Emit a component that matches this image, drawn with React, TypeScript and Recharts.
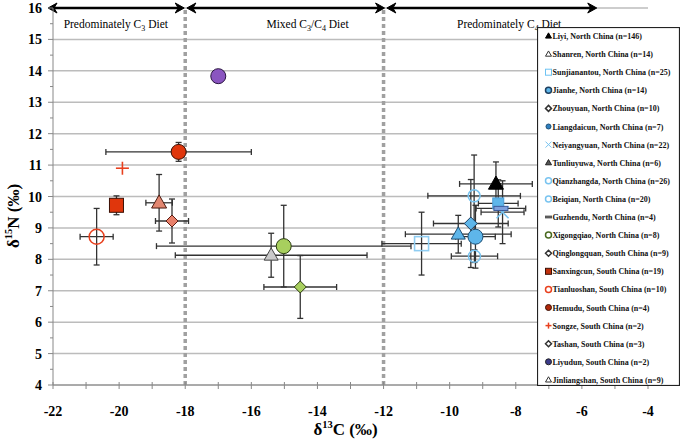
import React from "react";
import {
  ScatterChart,
  Scatter,
  XAxis,
  YAxis,
  CartesianGrid,
  ErrorBar,
  ReferenceLine,
  ReferenceDot,
} from "recharts";

// ---------- data ----------
const sites = [
  "Liyi, North China (n=146)",
  "Shanren, North China (n=14)",
  "Sunjianantou, North China (n=25)",
  "Jianhe, North China (n=14)",
  "Zhouyuan, North China (n=10)",
  "Liangdaicun, North China (n=7)",
  "Neiyangyuan, North China (n=22)",
  "Tunliuyuwa, North China (n=6)",
  "Qianzhangda, North China (n=26)",
  "Beiqian, North China (n=20)",
  "Guzhendu, North China (n=4)",
  "Xigongqiao, North China (n=8)",
  "Qinglongquan, South China (n=9)",
  "Sanxingcun, South China (n=19)",
  "Tianluoshan, South China (n=10)",
  "Hemudu, South China (n=4)",
  "Songze, South China (n=2)",
  "Tashan, South China (n=3)",
  "Liyudun, South China (n=2)",
  "Jinliangshan, South China (n=9)",
];
const d13C = [-8.6, -15.4, -10.85, -9.22, -9.36, -8.53, -8.4, -9.74, -9.26, -9.25, -8.45, -15.02, -14.52, -20.08, -20.68, -18.2, -19.9, -18.4, -17.0, -18.79];
const d15N = [10.4, 8.13, 8.5, 8.72, 9.14, 9.78, 9.5, 8.8, 10.02, 8.1, 9.62, 8.42, 7.12, 9.72, 8.72, 11.42, 10.9, 9.22, 13.83, 9.8];
const sdC = [1.1, 2.9, 1.2, 0.6, 1.13, 0.6, 0.65, 1.6, 1.4, 0.7, 0.75, 3.85, 1.1, 0.18, 0.5, 2.2, 0, 0.5, 0, 0.4];
const sdN = [0.7, 0.7, 1.0, 1.0, 1.4, 0.75, 1.0, 0.6, 1.3, 0.2, 0, 1.3, 1.0, 0.3, 0.9, 0.3, 0, 0.7, 0, 0.9];

const xTicks = [-22, -21, -20, -19, -18, -17, -16, -15, -14, -13, -12, -11, -10, -9, -8, -7, -6, -5, -4];
const yTicks = [4, 4.5, 5, 5.5, 6, 6.5, 7, 7.5, 8, 8.5, 9, 9.5, 10, 10.5, 11, 11.5, 12, 12.5, 13, 13.5, 14, 14.5, 15, 15.5, 16];
const gridY = [4, 5, 6, 7, 8, 9, 10, 11, 12, 13, 14, 15, 16];
const dietBounds = [-18, -12];
const arrowSegments = [
  [-22.15, -18.03],
  [-17.95, -11.97],
  [-11.9, -5.55],
];
const dietLabels = ["Predominately C|3| Diet", "Mixed C|3|/C|4| Diet", "Predominately C|4| Diet"];
const dietLabelX = [-20.1, -14.3, -8.2];

// ---------- styles ----------
type MS = { kind: string; fill: string; stroke: string; size: number; sw?: number };
const BLUE = "#5eb6ea";
const LBLUE = "#79c4f0";
const markerStyles: MS[] = [
  { kind: "tri", fill: "#000", stroke: "#000", size: 15 },
  { kind: "tri", fill: "#cacaca", stroke: "#444", size: 14 },
  { kind: "square", fill: "none", stroke: "#8fcdf2", size: 14, sw: 1.6 },
  { kind: "circle", fill: BLUE, stroke: "#1d4f75", size: 15 },
  { kind: "diamond", fill: BLUE, stroke: "#1d3f60", size: 13 },
  { kind: "square", fill: BLUE, stroke: "#4f9fd8", size: 11 },
  { kind: "x", fill: "none", stroke: LBLUE, size: 12, sw: 1.6 },
  { kind: "tri", fill: BLUE, stroke: "#1d4f75", size: 14 },
  { kind: "circle", fill: "none", stroke: LBLUE, size: 12, sw: 1.5 },
  { kind: "circle", fill: "none", stroke: LBLUE, size: 12, sw: 1.5 },
  { kind: "dash", fill: "#7d9fdc", stroke: "#3a5a9a", size: 14 },
  { kind: "circle", fill: "#a8cf5e", stroke: "#2a3a10", size: 15 },
  { kind: "diamond", fill: "#a8cf5e", stroke: "#2a3a10", size: 12 },
  { kind: "square", fill: "#e0360c", stroke: "#3a1005", size: 14 },
  { kind: "circle", fill: "none", stroke: "#e8401e", size: 15, sw: 1.5 },
  { kind: "circle", fill: "#e0360c", stroke: "#3a1005", size: 15 },
  { kind: "plus", fill: "none", stroke: "#e8401e", size: 13, sw: 1.6 },
  { kind: "diamond", fill: "#e8806a", stroke: "#5a1a10", size: 12 },
  { kind: "circle", fill: "#8a55c0", stroke: "#2a1540", size: 15 },
  { kind: "tri", fill: "#e28670", stroke: "#4a1a10", size: 15 },
];
const legendStyles: MS[] = [
  { kind: "tri", fill: "#000", stroke: "#000", size: 6 },
  { kind: "tri", fill: "#fff", stroke: "#333", size: 6 },
  { kind: "square", fill: "#fff", stroke: "#6ec3f3", size: 6 },
  { kind: "circle", fill: BLUE, stroke: "#1d3f60", size: 6, sw: 1.5 },
  { kind: "diamond", fill: "#fff", stroke: "#333", size: 6, sw: 1.5 },
  { kind: "circle", fill: "#2f7fc0", stroke: "#1d4f75", size: 5 },
  { kind: "x", fill: "none", stroke: LBLUE, size: 6 },
  { kind: "tri", fill: "#555", stroke: "#222", size: 6 },
  { kind: "circle", fill: "#fff", stroke: LBLUE, size: 6, sw: 1.5 },
  { kind: "circle", fill: "#fff", stroke: LBLUE, size: 6, sw: 1.5 },
  { kind: "dash", fill: "#555", stroke: "#555", size: 6 },
  { kind: "circle", fill: "#fff", stroke: "#4a6a20", size: 6, sw: 1.5 },
  { kind: "diamond", fill: "#fff", stroke: "#333", size: 6, sw: 1.5 },
  { kind: "square", fill: "#c0300c", stroke: "#3a1005", size: 6 },
  { kind: "circle", fill: "#fff", stroke: "#e8401e", size: 6, sw: 1.5 },
  { kind: "circle", fill: "#b0280a", stroke: "#3a1005", size: 6 },
  { kind: "plus", fill: "none", stroke: "#e8401e", size: 6, sw: 1.5 },
  { kind: "diamond", fill: "#fff", stroke: "#333", size: 6, sw: 1.5 },
  { kind: "circle", fill: "#3a3a8a", stroke: "#222", size: 6 },
  { kind: "tri", fill: "#fff", stroke: "#333", size: 6 },
];

const SERIF = "'Liberation Serif', 'Times New Roman', serif";

function Marker({ cx, cy, st }: { cx: number; cy: number; st: MS }) {
  const r = st.size / 2;
  const sw = st.sw ?? 1;
  switch (st.kind) {
    case "tri":
      return (
        <polygon
          points={`${cx},${cy - r * 1.05} ${cx + r},${cy + r * 0.7} ${cx - r},${cy + r * 0.7}`}
          fill={st.fill}
          stroke={st.stroke}
          strokeWidth={sw}
        />
      );
    case "square":
      return <rect x={cx - r} y={cy - r} width={st.size} height={st.size} fill={st.fill} stroke={st.stroke} strokeWidth={sw} />;
    case "circle":
      return <circle cx={cx} cy={cy} r={r} fill={st.fill} stroke={st.stroke} strokeWidth={sw} />;
    case "diamond":
      return (
        <polygon
          points={`${cx},${cy - r} ${cx + r},${cy} ${cx},${cy + r} ${cx - r},${cy}`}
          fill={st.fill}
          stroke={st.stroke}
          strokeWidth={sw}
        />
      );
    case "x":
      return (
        <g stroke={st.stroke} strokeWidth={sw}>
          <line x1={cx - r} y1={cy - r} x2={cx + r} y2={cy + r} />
          <line x1={cx - r} y1={cy + r} x2={cx + r} y2={cy - r} />
        </g>
      );
    case "plus":
      return (
        <g stroke={st.stroke} strokeWidth={sw}>
          <line x1={cx - r} y1={cy} x2={cx + r} y2={cy} />
          <line x1={cx} y1={cy - r} x2={cx} y2={cy + r} />
        </g>
      );
    case "dash":
      return <rect x={cx - r} y={cy - st.size * 0.15} width={st.size} height={st.size * 0.3} fill={st.fill} stroke={st.stroke} strokeWidth={sw} />;
    default:
      return null;
  }
}

const XTick = (p: any) => {
  const v = p.payload.value;
  const major = Math.round(v) % 2 === 0;
  return (
    <g>
      <line x1={p.x} x2={p.x} y1={p.y - 3} y2={p.y + 4} stroke="#888" strokeWidth={1} />
      {major && (
        <text x={p.x} y={p.y + 31} textAnchor="middle" fontFamily={SERIF} fontWeight="bold" fontSize={14} fill="#000">
          {v}
        </text>
      )}
    </g>
  );
};

const YTick = (p: any) => {
  const v = p.payload.value;
  const major = Number.isInteger(v);
  return (
    <g>
      <line x1={p.x - (major ? 5 : 3)} x2={p.x} y1={p.y} y2={p.y} stroke="#888" strokeWidth={1} />
      {major && (
        <text x={p.x - 11} y={p.y + 5} textAnchor="end" fontFamily={SERIF} fontWeight="bold" fontSize={14} fill="#000">
          {v}
        </text>
      )}
    </g>
  );
};

const ArrowShape = (p: any) => {
  const { x1, y1, x2, y2 } = p;
  const L = 9;
  const H = 5;
  const a = Math.min(x1, x2);
  const b = Math.max(x1, x2);
  const y = (y1 + y2) / 2;
  return (
    <g>
      <line x1={a + 3} y1={y} x2={b - 3} y2={y} stroke="#000" strokeWidth={2.6} />
      <path d={`M${a},${y} L${a + L},${y - H} L${a + L - 3},${y} L${a + L},${y + H} Z`} fill="#000" stroke="#000" strokeWidth={1} strokeLinejoin="round" />
      <path d={`M${b},${y} L${b - L},${y - H} L${b - L + 3},${y} L${b - L},${y + H} Z`} fill="#000" stroke="#000" strokeWidth={1} strokeLinejoin="round" />
    </g>
  );
};

function DietText({ cx, cy, label }: { cx: number; cy: number; label: string }) {
  const parts = label.split("|");
  return (
    <text x={cx} y={cy + 4} textAnchor="middle" fontFamily={SERIF} fontSize={11.5} fill="#000">
      {parts.map((s, i) =>
        i % 2 === 1 ? (
          <tspan key={i} fontSize={8} dy={3}>
            {s}
          </tspan>
        ) : (
          <tspan key={i} dy={i === 0 ? 0 : -3}>
            {s}
          </tspan>
        )
      )}
    </text>
  );
}

const series = sites.map((name, i) => ({
  name,
  i,
  data: [{ x: d13C[i], y: d15N[i], ex: sdC[i], ey: sdN[i] }],
}));

function Legend() {
  return (
    <svg width={143} height={359} style={{ position: "absolute", left: 537, top: 27 }}>
      <rect x={0.5} y={0.5} width={142} height={358} fill="#fff" stroke="#222" strokeWidth={1.2} />
      {sites.map((s, i) => {
        const y = 9 + 18.1 * i;
        return (
          <g key={s}>
            <Marker cx={11.5} cy={y} st={legendStyles[i]} />
            <text x={15.5} y={y + 3} fontFamily={SERIF} fontWeight="bold" fontSize={8} fill="#111">
              {s}
            </text>
          </g>
        );
      })}
    </svg>
  );
}

export default function App() {
  return (
    <div style={{ position: "relative", width: 685, height: 441, background: "#fff" }}>
      <style>{"body{margin:0}"}</style>
      <ScatterChart width={685} height={441} margin={{ top: 8, right: 37, bottom: 0, left: 23 }}>
        <CartesianGrid vertical={false} horizontalValues={gridY} stroke="#bcbcbc" strokeWidth={1.5} />
        <XAxis
          type="number"
          dataKey="x"
          domain={[-22, -4]}
          ticks={xTicks}
          interval={0}
          allowDataOverflow
          height={56}
          tickSize={0}
          tickMargin={0}
          tickLine={false}
          axisLine={{ stroke: "#888" }}
          tick={<XTick />}
          label={{
            content: (props: any) => {
              const vb = props.viewBox;
              return (
                <text x={vb.x + vb.width / 2 - 5} y={vb.y + 50} textAnchor="middle" fontFamily={SERIF} fontWeight="bold" fontSize={17} fill="#000">
                  δ<tspan fontSize={10.5} dy={-7}>13</tspan>
                  <tspan dy={7}>C (‰)</tspan>
                </text>
              );
            },
          }}
        />
        <YAxis
          type="number"
          dataKey="y"
          domain={[4, 16]}
          ticks={yTicks}
          interval={0}
          allowDataOverflow
          width={30}
          tickSize={0}
          tickMargin={0}
          tickLine={false}
          axisLine={{ stroke: "#888" }}
          tick={<YTick />}
          label={{
            content: () => (
              <text x={0} y={0} transform="translate(19,216) rotate(-90)" textAnchor="middle" fontFamily={SERIF} fontWeight="bold" fontSize={17} fill="#000">
                δ<tspan fontSize={10.5} dy={-7}>15</tspan>
                <tspan dy={7}>N (‰)</tspan>
              </text>
            ),
          }}
        />
        {dietBounds.map((b) => (
          <ReferenceLine key={b} x={b} stroke="#a0a0a0" strokeWidth={3.5} strokeDasharray="4 3" />
        ))}
        {series.map((s) => (
          <Scatter key={s.name} name={s.name} data={s.data} isAnimationActive={false} shape={(p: any) => <Marker cx={p.cx} cy={p.cy} st={markerStyles[s.i]} />}>
            {sdC[s.i] > 0 && <ErrorBar dataKey="ex" direction="x" width={3} stroke="#333" strokeWidth={1.3} isAnimationActive={false} />}
            {sdN[s.i] > 0 && <ErrorBar dataKey="ey" direction="y" width={3} stroke="#333" strokeWidth={1.3} isAnimationActive={false} />}
          </Scatter>
        ))}
        {arrowSegments.map((seg, i) => (
          <ReferenceLine
            key={"a" + i}
            segment={[
              { x: seg[0], y: 16 },
              { x: seg[1], y: 16 },
            ]}
            ifOverflow="visible"
            shape={ArrowShape}
          />
        ))}
        {dietLabels.map((lab, i) => (
          <ReferenceDot key={lab} x={dietLabelX[i]} y={15.5} r={0} ifOverflow="visible" shape={(p: any) => <DietText cx={p.cx} cy={p.cy} label={lab} />} />
        ))}
      </ScatterChart>
      <Legend />
    </div>
  );
}
